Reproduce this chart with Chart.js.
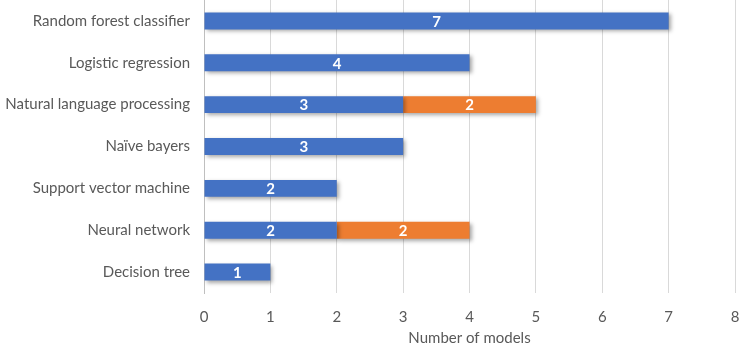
<!DOCTYPE html>
<html>
<head>
<meta charset="utf-8">
<script src="https://cdn.jsdelivr.net/npm/chart.js@4/dist/chart.umd.min.js"></script>
<style>
  html, body { margin: 0; padding: 0; background: #fff; }
  #wrap { width: 741px; height: 347px; }
</style>
</head>
<body>
<div id="wrap"><canvas id="chart"></canvas></div>
<script>
// chart data
const categories = [
    'Random forest classifier',
    'Logistic regression',
    'Natural language processing',
    'Naïve bayers',
    'Support vector machine',
    'Neural network',
    'Decision tree'
];
const blueValues = [7, 4, 3, 3, 2, 2, 1];
const orangeValues = [null, null, 2, null, null, 2, null];
const xTicks = [0, 1, 2, 3, 4, 5, 6, 7, 8];

const FONT = "Lato, 'Open Sans', sans-serif";

// soft drop shadow like the office chart
const shadowPlugin = {
    id: 'barShadow',
    beforeDatasetsDraw(chart) {
        const ctx = chart.ctx;
        ctx.save();
        ctx.shadowColor = 'rgba(0,0,0,0.35)';
        ctx.shadowBlur = 4;
        ctx.shadowOffsetX = 2;
        ctx.shadowOffsetY = 2;
    },
    afterDatasetsDraw(chart) {
        chart.ctx.restore();
    }
};

// white value labels in the middle of each bar
const valueLabels = {
    id: 'valueLabels',
    afterDatasetsDraw(chart) {
        const ctx = chart.ctx;
        ctx.save();
        ctx.fillStyle = '#fff';
        ctx.font = "bold 15px " + FONT;
        ctx.textAlign = 'center';
        ctx.textBaseline = 'middle';
        chart.data.datasets.forEach((ds, i) => {
            const meta = chart.getDatasetMeta(i);
            meta.data.forEach((bar, j) => {
                const v = ds.data[j];
                if (v == null) return;
                const mid = (bar.x + bar.base) / 2;
                ctx.fillText(String(v), mid, bar.y + 1);
            });
        });
        ctx.restore();
    }
};

const ctx = document.getElementById('chart').getContext('2d');
new Chart(ctx, {
    type: 'bar',
    data: {
        labels: categories,
        datasets: [{
            label: 'Models',
            data: blueValues,
            backgroundColor: '#4472C4',
            barPercentage: 0.81,
            categoryPercentage: 0.5
        }, {
            label: 'NLP',
            data: orangeValues,
            backgroundColor: '#ED7D31',
            barPercentage: 0.81,
            categoryPercentage: 0.5
        }]
    },
    options: {
        indexAxis: 'y',
        responsive: true,
        maintainAspectRatio: false,
        animation: false,
        layout: { padding: { top: 0, right: 6, bottom: 0, left: 0 } },
        plugins: {
            legend: { display: false },
            tooltip: { enabled: false }
        },
        scales: {
            x: {
                stacked: true,
                min: 0,
                max: 8,
                afterBuildTicks: (scale) => { scale.ticks = xTicks.map(v => ({ value: v })); },
                grid: { color: '#d9d9d9', drawTicks: false },
                border: { display: false },
                ticks: { color: '#595959', padding: 15, font: { family: FONT, size: 15 } },
                title: {
                    display: true,
                    text: 'Number of models',
                    color: '#595959',
                    padding: { top: 3, bottom: 0 },
                    font: { family: FONT, size: 15 }
                },
                afterFit: (scale) => {
                    scale.height = 54;
                    scale.paddingLeft = 0;
                    scale.paddingRight = 0;
                }
            },
            y: {
                stacked: true,
                grid: { display: false, drawTicks: false },
                border: { display: true, color: '#bfbfbf' },
                ticks: { color: '#595959', padding: 14, font: { family: FONT, size: 15 } },
                afterFit: (scale) => {
                    scale.width = 204;
                    scale.paddingTop = 0;
                    scale.paddingBottom = 0;
                }
            }
        }
    },
    plugins: [shadowPlugin, valueLabels]
});
</script>
</body>
</html>
